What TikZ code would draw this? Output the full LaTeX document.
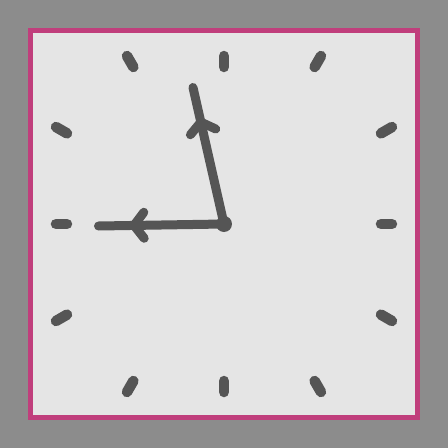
\documentclass[tikz,border=0pt]{standalone}
\usetikzlibrary{decorations.markings}
\definecolor{bgGrey}{HTML}{8C8C8C}
\definecolor{faceGrey}{HTML}{E5E5E5}
\definecolor{rimPink}{HTML}{C03E7C}
\definecolor{inkGrey}{HTML}{555555}

\begin{document}
\begin{tikzpicture}[x=1pt, y=1pt,
    frame/.style={draw=rimPink, line width=5pt, fill=faceGrey},
    tickmark/.style={draw=inkGrey, line width=10.5pt, line cap=round},
    chevron/.style={draw=inkGrey, line width=9pt, line cap=round, line join=round},
    hand/.style={chevron, postaction={decorate},
      decoration={markings, mark=at position -35.5pt with
        {\draw[chevron] (-10,13) -- (0,0) -- (-10,-13);}}},
    pivot/.style={circle, fill=inkGrey, inner sep=0pt, minimum size=16pt}
  ]
  \fill[bgGrey] (-224,-224) rectangle (224,224);
  \draw[frame] (-193.5,-193.5) rectangle (193.5,193.5);

  % ticks sit on a square round the centre
  \foreach \a in {0,30,...,330} {
    \pgfmathsetmacro{\ri}{157/max(abs(cos(\a)),abs(sin(\a)))}
    \pgfmathsetmacro{\ro}{168/max(abs(cos(\a)),abs(sin(\a)))}
    \draw[tickmark] (\a:\ri) -- (\a:\ro);
  }

  \coordinate (centre) at (0,0);
  \coordinate (hourtip) at (-125.5,-2);
  \coordinate (minutetip) at (-31,136.5);
  \draw[hand] (centre) -- (hourtip);
  \draw[hand] (centre) -- (minutetip);
  \node[pivot] (hub) at (centre) {};
\end{tikzpicture}
\end{document}
